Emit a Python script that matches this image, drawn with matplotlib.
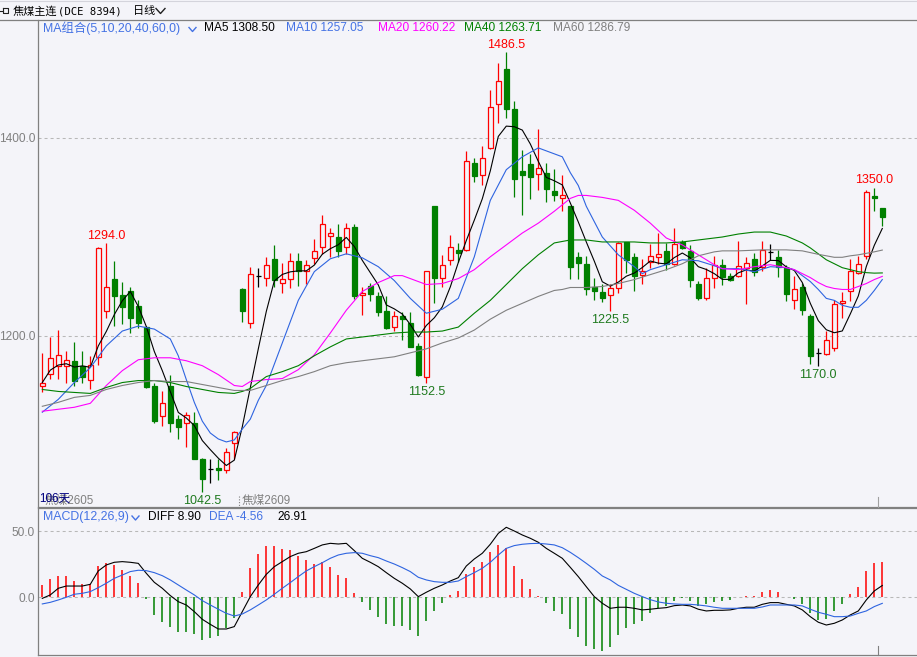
import matplotlib
matplotlib.use('Agg')
import matplotlib.pyplot as plt
import numpy as np
import pandas as pd

W, H = 917, 657
BG = '#f4f4f9'
RED = '#ff0000'
GRN = '#008000'
BLUE = '#2e64e0'
MAG = '#ff00ff'
GRAY = '#808080'
LOWC = '#1f7a1f'

# ---------------- data ----------------
opens = [1150,1162,1170,1170,1175,1170,1156,1179,1225,1258,
         1241,1245,1230,1209,1149,1119,1150,1116,1112,1112,
         1076,1066,1067,1065,1092,1247,1213,1261,1259,1278,
         1254,1258,1276,1266,1279,1290,1301,1300,1290,1310,
         1241,1251,1240,1225,1209,1220,1213,1190,1159,1331,
         1259,1277,1287,1287,1375,1363,1390,1434,1470,1429,
         1367,1374,1364,1365,1346,1339,1331,1280,1273,1249,
         1244,1241,1248,1295,1280,1262,1275,1280,1286,1273,
         1295,1286,1253,1238,1259,1272,1261,1261,1269,1278,
         1270,1285,1280,1269,1236,1250,1220,1182.5,1182,1188,
         1233,1245,1264,1281,1341,1329]
highs = [1183,1199,1206,1185,1194,1185,1180,1290,1294,1276,
         1255,1249,1236,1210,1153,1144,1161,1120,1123,1123,
         1077,1076,1076,1087,1104,1248,1270,1269,1280,1292,
         1274,1284,1284,1277,1298,1322,1309,1313,1314,1313,
         1249,1254,1244,1240,1225,1224,1224,1193,1266,1331,
         1282,1302,1294,1387,1380,1392,1448,1476,1486.5,1437,
         1388,1384,1409,1375,1369,1363,1331,1285,1281,1259,
         1253,1253,1295,1295,1284,1278,1293,1304,1294,1309,
         1297,1292,1256,1269,1281,1278,1264,1296,1280,1284,
         1296,1293,1287,1272,1261,1254,1222,1188,1205,1236,
         1244,1278,1281,1347,1350,1329]
lows = [1143,1157,1157,1153,1150,1153,1146,1171,1218,1210,
        1212,1203,1208,1147,1112,1109,1103,1096,1088,1076,
        1042.5,1052,1055,1062,1076,1214,1208,1250,1251,1250,
        1243,1248,1251,1253,1273,1283,1280,1280,1283,1237,
        1221,1235,1220,1207,1205,1196,1189,1160,1152.5,1233,
        1250,1272,1275,1286,1356,1353,1389,1415,1420,1340,
        1322,1338,1347,1335,1336,1326,1258,1258,1241,1236,
        1234,1225.5,1243,1264,1245,1253,1269,1273,1267,1272,
        1288,1249,1236,1236,1248,1252,1256,1260,1232,1261,
        1266,1277,1260,1235,1227,1221,1172,1170,1181,1185,
        1218,1235,1263,1278,1326,1311]
closes = [1153,1178,1181,1176,1155,1159,1171,1289,1249,1240,
          1229,1218,1213,1148,1114,1132,1112,1108,1120,1076,
          1056,1066,1065,1083,1103,1225,1263,1261,1272,1257,
          1258,1276,1266,1272,1286,1313,1304,1286,1309,1240,
          1243,1242,1224,1208,1220,1217,1189,1161,1266,1259,
          1272,1290,1284,1377,1362,1380,1431,1458,1429,1359,
          1363,1361,1370,1348,1342,1342,1270,1274,1247,1245,
          1238,1248,1294,1277,1261,1266,1281,1283,1273,1293,
          1289,1257,1238,1259,1272,1260,1257,1271,1274,1265,
          1287,1285,1270,1242,1247,1226,1180,1182.5,1196,1232,
          1235,1266,1273,1345,1339,1320]

ma10_idx = [0,2,4,6,8,10,12,14,16,17,18,19,20,21,22,23,24,25,26,27,28,30,32,34,36,38,40,42,44,46,48,50,52,54,56,58,60,62,64,65,66,67,68,70,72,74,75,76,78,80,82,84,85,87,89,91,93,94,95,96,97,98,99,100,101,102,103,104,105]
ma10_val = [1123,1136,1153,1168,1190,1205,1210,1207,1197,1180,1156,1133,1114,1102,1096,1093,1095,1106,1116,1135,1150,1193,1236,1265,1278,1283,1279,1270,1256,1238,1223,1227,1238,1280,1337,1368,1381,1390,1384,1381,1365,1352,1331,1300,1282,1270,1263,1267,1272,1277,1276,1271,1268,1268,1265,1270,1269,1267,1261,1255,1247,1238,1236,1231,1229,1229,1236,1246,1257.05]

ma20_idx = [0,2,4,6,8,10,12,14,16,18,20,22,24,25,26,28,30,32,34,36,38,40,42,44,45,46,48,50,52,54,56,58,60,62,64,66,67,68,70,72,74,76,78,80,82,84,85,87,89,91,93,94,95,96,97,98,99,100,101,102,103,104,105]
ma20_val = [1124,1126,1128,1132,1150,1165,1176,1178,1178,1175,1170,1161,1150,1149,1154,1156,1157,1166,1181,1203,1226,1245,1254,1261,1261,1258,1252,1253,1258,1267,1280,1292,1304,1314,1326,1339,1342,1342,1340,1337,1327,1314,1299,1292,1282,1272,1268,1267,1270,1272,1269,1267,1263,1259,1254,1250,1248,1247,1247,1250,1253,1257,1260.22]

ma40_idx = [0,2,4,6,8,10,12,14,16,18,20,22,24,25,26,28,30,32,34,36,38,40,42,44,46,48,50,52,54,56,58,60,62,64,66,68,70,72,74,76,78,80,82,84,85,87,89,91,93,95,96,97,98,99,100,101,102,103,104,105]
ma40_val = [1146,1144,1143,1142,1148,1153,1155,1155,1153,1149,1146,1143,1142,1144,1147,1159,1164,1170,1180,1189,1197,1199,1201,1203,1204,1204,1205,1209,1223,1236,1252,1268,1282,1294,1297,1297,1295,1295,1295,1294,1294,1295,1297,1299,1300,1303,1305,1305,1301,1294,1289,1283,1277,1273,1269,1267,1265,1264,1263.5,1263.71]

ma60_idx = [0,2,4,6,8,10,12,14,16,18,20,22,24,26,28,30,32,34,36,38,40,42,44,46,48,50,52,54,56,58,60,62,64,65,66,68,70,72,74,76,78,80,82,84,85,87,90,93,95,97,99,100,101,102,103,104,105]
ma60_val = [1129,1133,1138,1140,1146,1150,1153,1155,1154,1154,1151,1148,1145,1145,1150,1155,1159,1164,1170,1173,1175,1177,1179,1183,1187,1193,1198,1206,1217,1226,1233,1240,1246,1247,1249,1249,1250,1253,1257,1262,1267,1273,1281,1285,1286,1286,1287,1287,1286,1282.5,1279.5,1279.5,1281,1282,1283.5,1285,1286.79]

macd_hist = [9.3,13.8,16.1,16.1,12.3,9.8,9.8,23.6,25.6,24.4,
             20.6,16.1,10.6,-1.0,-13.3,-18.3,-22.6,-25.9,-25.9,-27.9,
             -32.2,-30.9,-28.9,-23.4,-15.8,4.3,22.4,32.7,38.7,38.7,
             36.4,35.7,31.2,28.1,25.1,26.4,23.1,16.8,14.8,3.5,
             -3.8,-9.5,-14.6,-20.1,-21.4,-21.4,-24.6,-29.2,-17.8,-10.3,
             -4.0,1.8,4.8,17.6,23.1,26.9,34.4,39.5,37.4,23.6,
             13.8,6.3,1.3,-4.0,-10.1,-12.8,-24.1,-30.2,-36.4,-39.0,
             -40.2,-37.2,-28.4,-22.9,-20.4,-17.6,-12.1,-8.3,-6.3,-2.8,
             -0.8,-2.8,-6.3,-5.3,-3.3,-2.8,-2.0,0.0,1.3,1.3,
             3.8,5.5,4.3,0.0,-1.3,-5.3,-12.1,-17.1,-16.3,-10.3,
             -5.3,2.3,8.0,20.1,26.1,26.91]
macd_diff = [-0.8,1.8,6.8,8.5,8.5,8.5,9.8,19.9,24.4,26.4,
             26.9,26.4,25.6,18.1,11.3,6.8,1.3,-3.3,-5.8,-10.8,
             -16.6,-20.4,-23.9,-23.9,-22.1,-10.8,0.5,9.3,17.3,23.1,
             26.9,30.7,33.2,34.4,36.9,39.5,40.7,40.2,40.7,35.2,
             29.4,26.4,23.1,18.6,14.3,10.6,6.3,0.5,3.8,6.8,
             9.3,12.3,14.8,23.6,28.9,33.2,40.0,48.2,52.8,50.0,
             47.0,44.5,41.5,36.9,33.2,29.4,22.6,15.6,8.0,0.5,
             -4.5,-8.3,-7.5,-7.5,-8.3,-9.5,-9.0,-8.3,-7.8,-6.3,
             -5.8,-6.5,-9.0,-10.3,-9.8,-9.8,-9.5,-8.3,-7.5,-7.5,
             -5.3,-4.0,-4.0,-5.3,-6.5,-9.5,-14.6,-18.8,-20.9,-19.6,
             -17.1,-13.3,-10.3,-2.0,4.8,8.90]
macd_dea = [-5.0,-3.8,-2.0,0.0,2.3,3.0,4.3,7.3,10.6,14.3,
            16.8,19.4,20.4,20.1,18.6,16.3,13.1,9.3,5.5,1.8,
            -2.5,-5.8,-9.0,-12.1,-14.1,-12.6,-9.5,-5.8,-2.0,2.3,
            6.8,11.1,15.6,19.9,23.1,26.1,29.4,31.9,33.2,33.7,
            33.2,31.4,29.9,27.4,25.1,22.4,19.4,15.1,13.1,11.8,
            11.3,11.3,12.3,15.6,18.6,21.9,26.4,31.9,36.9,39.0,
            40.0,40.5,40.7,40.2,39.5,37.4,33.9,29.9,25.6,21.1,
            16.1,13.1,9.0,6.0,3.0,0.5,-1.8,-3.5,-4.5,-5.0,
            -5.3,-5.3,-5.8,-6.5,-7.5,-8.3,-8.3,-8.3,-8.3,-8.3,
            -7.3,-5.8,-5.8,-5.8,-5.8,-6.5,-9.0,-11.3,-12.8,-14.6,
            -14.6,-14.1,-12.1,-10.3,-7.0,-4.56]

high_marks = [8, 58, 104]
low_marks = [20, 48, 71, 97]

ytick_main = [1200, 1400]
ytick_macd = [0, 50]

title_name = '焦煤主连'
title_code = '(DCE 8394)'
period = '日线'

# ---------------- figure ----------------
FAM = ['Liberation Sans', 'Noto Sans CJK SC']
plt.rcParams['font.family'] = FAM

fig = plt.figure(figsize=(W / 100, H / 100), dpi=100, facecolor=BG)

def fx(px):
    return px / W

def fy(py):
    return 1 - py / H

L, R = 38, 917
T1, B1 = 20, 507
T2, B2 = 508, 655
ax1 = fig.add_axes([fx(L), fy(B1), (R - L) / W, (B1 - T1) / H])
ax2 = fig.add_axes([fx(L), fy(B2), (R - L) / W, (B2 - T2) / H])

x0_px, step_px = 42.3, 8.0
xmin = (L - x0_px) / step_px
xmax = (R - x0_px) / step_px

def price_at(py):
    return 1400 - (py - 138) * 200 / 198

def macd_at(py):
    return (597.3 - py) * 50 / 66.3

ax1.set_xlim(xmin, xmax)
ax1.set_ylim(price_at(B1), price_at(T1))
ax2.set_xlim(xmin, xmax)
ax2.set_ylim(macd_at(B2), macd_at(T2))

for ax in (ax1, ax2):
    ax.set_facecolor(BG)
    ax.spines['right'].set_visible(False)
    for s in ('left', 'top', 'bottom'):
        ax.spines[s].set_color(GRAY)
        ax.spines[s].set_linewidth(0.9)
    ax.set_xticks([])
    ax.tick_params(axis='y', length=0, pad=2.2, labelcolor=GRAY, labelsize=8.6)
ax1.spines['top'].set_visible(False)

ax1.set_yticks(ytick_main)
ax1.set_yticklabels([f'{v:.1f}' for v in ytick_main])
ax2.set_yticks(ytick_macd)
ax2.set_yticklabels([f'{v:.1f}' for v in ytick_macd])

dash = (0, (2.9, 2.9))
for v in ytick_main:
    ax1.axhline(v, color='#b8b8b8', lw=0.75, ls=dash, zorder=0)
for v in ytick_macd:
    ax2.axhline(v, color='#b8b8b8', lw=0.75, ls=dash, zorder=0)

# ---------------- candles ----------------
xi = np.arange(len(closes))
o = np.array(opens, float)
c = np.array(closes, float)
h = np.array(highs, float)
lo = np.array(lows, float)
up = c > o
dn = c < o
dj = c == o
bw = 0.7

ax1.vlines(xi[up], lo[up], h[up], color=RED, lw=0.9, zorder=2)
ax1.bar(xi[up], c[up] - o[up], bottom=o[up], width=bw, facecolor=BG,
        edgecolor=RED, linewidth=0.9, zorder=3)
ax1.vlines(xi[dn], lo[dn], h[dn], color=GRN, lw=0.9, zorder=2)
ax1.bar(xi[dn], o[dn] - c[dn], bottom=c[dn], width=bw, facecolor=GRN,
        edgecolor=GRN, linewidth=0.9, zorder=3)
ax1.vlines(xi[dj], lo[dj], h[dj], color='black', lw=0.9, zorder=2)
ax1.hlines(c[dj], xi[dj] - bw / 2, xi[dj] + bw / 2, color='black', lw=0.9, zorder=3)

# ---------------- moving averages ----------------
ma5 = pd.Series(c).rolling(5, min_periods=1).mean().to_numpy()
ax1.plot(xi, ma5, color='black', lw=0.8, zorder=4)
ax1.plot(ma10_idx, ma10_val, color=BLUE, lw=0.8, zorder=4)
ax1.plot(ma20_idx, ma20_val, color=MAG, lw=0.8, zorder=4)
ax1.plot(ma40_idx, ma40_val, color=GRN, lw=0.8, zorder=4)
ax1.plot(ma60_idx, ma60_val, color=GRAY, lw=0.8, zorder=4)

# high / low labels
for i in high_marks:
    ax1.annotate(f'{highs[i]:.1f}', (i, highs[i]), xytext=(0, 1), textcoords='offset points',
                 ha='center', va='bottom', color=RED, fontsize=9, zorder=6)
for i in low_marks:
    ax1.annotate(f'{lows[i]:.1f}', (i, lows[i]), xytext=(0, -2.5), textcoords='offset points',
                 ha='center', va='top', color=LOWC, fontsize=9, zorder=6)

# ---------------- MACD ----------------
hh = np.array(macd_hist, float)
pos = hh > 0
neg = hh < 0
ax2.vlines(xi[pos], 0, hh[pos], color=RED, lw=1.1, zorder=2)
ax2.vlines(xi[neg], hh[neg], 0, color=GRN, lw=1.1, zorder=2)
ax2.plot(xi, macd_diff, color='black', lw=0.8, zorder=4)
ax2.plot(xi, macd_dea, color=BLUE, lw=0.8, zorder=4)

# ---------------- header & legends ----------------
def ftext(px, py, s, color='black', size=8.6, family=None, ha='left', va='center'):
    kw = {}
    if family is not None:
        kw['family'] = family
    fig.text(fx(px), fy(py), s, color=color, fontsize=size, ha=ha, va=va, **kw)

def chevron(px, py, w=7, hgt=4, color=BLUE):
    fig.add_artist(plt.Line2D([fx(px), fx(px + w / 2), fx(px + w)],
                              [fy(py), fy(py + hgt), fy(py)], transform=fig.transFigure,
                              color=color, lw=1.0))

def fline(xs, ys, color=GRAY, lw=0.9, ls='-'):
    fig.add_artist(plt.Line2D([fx(v) for v in xs], [fy(v) for v in ys],
                              transform=fig.transFigure, color=color, lw=lw, ls=ls))

# top border and title separator
fline([0, W], [1, 1], color='#d4d4dc', lw=0.8)
fline([0, W], [20, 20], color=GRAY, lw=0.9)

# small icon at top-left
fline([0, 3], [10.5, 10.5], color='#202020', lw=0.8)
fline([3, 8, 8, 3, 3], [8, 8, 13, 13, 8], color='#202020', lw=0.8)

ftext(13, 11, title_name, color='black', size=8.0, family=['Noto Sans CJK SC'])
ftext(58, 11, title_code, color='black', size=7.6, family=['DejaVu Sans Mono'])
ftext(133, 11, period, color='black', size=8.0, family=['Noto Sans CJK SC'])
chevron(156, 8.5, w=9, hgt=5, color='#202020')

# MA legend
ftext(43, 28, 'MA组合(5,10,20,40,60,0)', color='#4472e4', size=8.9)
chevron(189, 27.5, w=7, hgt=4, color='#4472e4')
ftext(204, 28, 'MA5 1308.50', color='black')
ftext(286, 28, 'MA10 1257.05', color='#4472e4')
ftext(378, 28, 'MA20 1260.22', color=MAG)
ftext(464, 28, 'MA40 1263.71', color=GRN)
ftext(553, 28, 'MA60 1286.79', color=GRAY)

# MACD legend
ftext(43, 517, 'MACD(12,26,9)', color='#4472e4', size=8.9)
chevron(132, 516, w=7, hgt=4, color='#4472e4')
ftext(148, 517, 'DIFF 8.90', color='black')
ftext(209, 517, 'DEA -4.56', color='#4472e4')
ftext(277, 517, '26.91', color='black')

# bottom annotations of the main panel (overlapping, as in the source)
ftext(45, 501, '焦煤2605', color=GRAY, size=8.4)
ftext(39, 499, '106天', color='#000080', size=8.4)
ftext(242, 501, '焦煤2609', color=GRAY, size=8.4)
fline([239, 239], [496, 506], color=GRAY, lw=0.8, ls=(0, (1, 1.5)))

# current-position marks
fline([878, 878], [497, 507], color='#a0a0a0', lw=0.8)
fline([878, 878], [646, 655], color=GRAY, lw=0.8)

fig.savefig('out.png', dpi=100, facecolor=BG)
